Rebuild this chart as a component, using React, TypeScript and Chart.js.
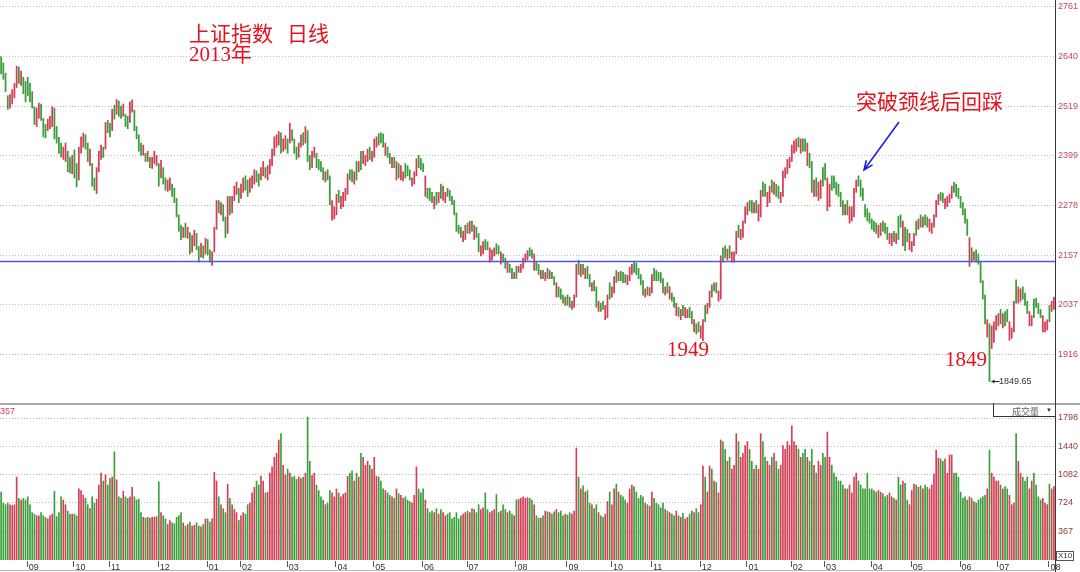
import React, { useEffect, useRef } from "react";
import { Chart, registerables } from "chart.js";

Chart.register(...registerables);

// ---------------- data ----------------
const monthNames = ["08", "09", "10", "11", "12", "01", "02", "03", "04", "05", "06", "07", "08", "09", "10", "11", "12", "01", "02", "03", "04", "05", "06", "07", "08"];
const monthBarCounts = [12, 21, 16, 22, 22, 15, 21, 22, 17, 22, 20, 22, 23, 20, 18, 22, 21, 20, 15, 21, 18, 22, 17, 23, 3];

const highs = [
  2640, 2625, 2600, 2545, 2548, 2560, 2575, 2617, 2615, 2605, 2590, 2580,
  2590, 2575, 2555, 2518, 2515, 2527, 2525, 2490, 2475, 2488, 2495, 2518, 2515, 2470, 2444, 2430, 2420, 2430, 2410, 2395, 2400,
  2413, 2380, 2420, 2445, 2454, 2450, 2430, 2415, 2380, 2345, 2370, 2410, 2425, 2420, 2480, 2485,
  2478, 2512, 2522, 2536, 2532, 2520, 2525, 2500, 2495, 2530, 2535, 2510, 2470, 2450, 2430, 2425, 2405, 2410, 2395, 2395, 2410, 2400,
  2380, 2388, 2370, 2345, 2340, 2345, 2330, 2320, 2295, 2255, 2230, 2225, 2235, 2225, 2212, 2205, 2218, 2210, 2178, 2186, 2180, 2198,
  2195, 2170, 2165, 2225, 2290, 2290, 2285, 2280, 2250, 2300, 2300, 2300, 2325, 2335, 2320,
  2330, 2345, 2350, 2340, 2345, 2350, 2365, 2362, 2355, 2370, 2385, 2370, 2375, 2390, 2415, 2445, 2450, 2458, 2455, 2440, 2448,
  2440, 2478, 2462, 2440, 2420, 2430, 2450, 2455, 2470, 2460, 2400, 2410, 2420, 2405, 2390, 2385, 2370, 2360, 2365, 2350, 2290, 2275,
  2305, 2315, 2300, 2310, 2320, 2355, 2365, 2365, 2360, 2385, 2385, 2410, 2410, 2400, 2415, 2420, 2410,
  2440, 2445, 2453, 2455, 2452, 2430, 2420, 2405, 2395, 2395, 2385, 2380, 2375, 2360, 2380, 2375, 2365, 2345, 2360, 2392, 2400, 2392,
  2380, 2350, 2320, 2320, 2310, 2300, 2310, 2310, 2330, 2325, 2310, 2320, 2315, 2300, 2290, 2260, 2230, 2225, 2215, 2230,
  2235, 2240, 2240, 2230, 2225, 2210, 2180, 2190, 2195, 2190, 2175, 2170, 2175, 2185, 2180, 2165, 2160, 2150, 2140, 2135, 2125, 2115,
  2130, 2130, 2135, 2150, 2160, 2168, 2175, 2170, 2160, 2140, 2135, 2120, 2120, 2115, 2125, 2120, 2115, 2105, 2090, 2080, 2075, 2060, 2055,
  2060, 2055, 2045, 2060, 2135, 2145, 2135, 2135, 2125, 2130, 2110, 2090, 2095, 2080, 2045, 2040, 2045, 2035, 2060, 2090,
  2080, 2105, 2120, 2115, 2118, 2115, 2110, 2108, 2128, 2135, 2140, 2138, 2125, 2110, 2095, 2075, 2080, 2078,
  2110, 2125, 2120, 2115, 2115, 2100, 2080, 2090, 2080, 2065, 2055, 2040, 2030, 2025, 2035, 2030, 2025, 2030, 2020, 2000, 1990, 1995,
  1985, 2000, 2035, 2040, 2070, 2085, 2090, 2090, 2070, 2155, 2175, 2180, 2172, 2180, 2165, 2165, 2215, 2230, 2220, 2240, 2275,
  2285, 2290, 2290, 2285, 2290, 2280, 2315, 2335, 2330, 2310, 2325, 2340, 2335, 2330, 2325, 2310, 2362, 2370, 2390, 2395,
  2425, 2435, 2440, 2444, 2440, 2440, 2440, 2430, 2405, 2385, 2340, 2345, 2335, 2340, 2370,
  2380, 2345, 2330, 2350, 2350, 2335, 2330, 2310, 2290, 2280, 2290, 2275, 2275, 2320, 2340, 2350, 2340, 2320, 2280, 2270, 2260,
  2245, 2240, 2235, 2230, 2235, 2240, 2235, 2225, 2210, 2210, 2215, 2210, 2252, 2255, 2240, 2225, 2220, 2210,
  2190, 2210, 2240, 2245, 2255, 2250, 2255, 2250, 2245, 2235, 2255, 2290, 2305, 2310, 2308, 2295, 2300, 2305, 2325, 2334, 2330, 2320,
  2300, 2285, 2270, 2245, 2200, 2175, 2165, 2170, 2160, 2140, 2095, 2060, 2000, 1990, 1985, 1995, 2010,
  2015, 2025, 2015, 2020, 2025, 1995, 1980, 2045, 2097, 2080, 2075, 2080, 2065, 2045, 2020, 2010, 2050, 2052, 2040, 2025, 2010, 1995, 2000,
  2035, 2045, 2055,
];

const lows = [
  2598, 2585, 2555, 2512, 2515, 2525, 2540, 2565, 2575, 2570, 2550, 2530,
  2545, 2530, 2515, 2475, 2470, 2490, 2485, 2445, 2442, 2460, 2465, 2470, 2440, 2430, 2405, 2396, 2390, 2385, 2360, 2357, 2355,
  2345, 2323, 2340, 2405, 2420, 2415, 2385, 2375, 2325, 2315, 2307, 2360, 2390, 2395, 2415, 2455,
  2445, 2460, 2488, 2500, 2495, 2490, 2495, 2470, 2465, 2480, 2505, 2460, 2440, 2410, 2400, 2400, 2385, 2385, 2370, 2368, 2380, 2375,
  2325, 2345, 2330, 2315, 2312, 2315, 2300, 2285, 2250, 2215, 2195, 2200, 2200, 2198, 2160, 2165, 2180, 2170, 2140, 2152, 2150, 2160,
  2158, 2140, 2132, 2165, 2220, 2260, 2255, 2240, 2200, 2210, 2255, 2260, 2290, 2305, 2285,
  2295, 2310, 2315, 2300, 2310, 2320, 2330, 2335, 2325, 2340, 2350, 2345, 2340, 2355, 2375, 2400, 2420, 2425, 2405, 2410, 2415,
  2405, 2430, 2435, 2405, 2390, 2395, 2420, 2425, 2430, 2385, 2365, 2370, 2395, 2370, 2365, 2360, 2340, 2335, 2340, 2280, 2242, 2245,
  2255, 2285, 2270, 2275, 2290, 2305, 2340, 2335, 2330, 2340, 2360, 2365, 2380, 2375, 2385, 2390, 2385,
  2395, 2420, 2425, 2430, 2420, 2400, 2395, 2380, 2370, 2370, 2340, 2345, 2340, 2338, 2345, 2350, 2340, 2325, 2330, 2350, 2370, 2365,
  2360, 2300, 2295, 2290, 2285, 2270, 2280, 2285, 2295, 2290, 2285, 2300, 2290, 2280, 2255, 2215, 2210, 2200, 2190, 2195,
  2210, 2210, 2215, 2195, 2200, 2165, 2155, 2160, 2170, 2170, 2140, 2145, 2155, 2160, 2160, 2135, 2140, 2125, 2115, 2115, 2100, 2100,
  2100, 2115, 2115, 2125, 2140, 2145, 2155, 2150, 2120, 2120, 2110, 2100, 2100, 2095, 2100, 2100, 2100, 2085, 2055, 2055, 2050, 2040, 2035,
  2035, 2030, 2025, 2030, 2055, 2110, 2105, 2110, 2100, 2100, 2080, 2070, 2070, 2030, 2020, 2020, 2025, 2000, 2005, 2050,
  2055, 2065, 2090, 2095, 2095, 2090, 2090, 2085, 2095, 2110, 2115, 2110, 2100, 2085, 2060, 2055, 2060, 2058,
  2065, 2095, 2095, 2095, 2090, 2065, 2060, 2065, 2050, 2045, 2030, 2010, 2008, 2000, 2010, 2005, 2005, 2005, 1990, 1970, 1965, 1970,
  1955, 1949, 1995, 2015, 2030, 2055, 2070, 2065, 2045, 2050, 2140, 2150, 2145, 2150, 2140, 2140, 2160, 2200, 2195, 2200, 2235,
  2255, 2265, 2260, 2260, 2260, 2240, 2250, 2300, 2300, 2275, 2285, 2310, 2305, 2300, 2295, 2285, 2300, 2345, 2355, 2370,
  2385, 2405, 2410, 2420, 2405, 2410, 2410, 2375, 2370, 2310, 2300, 2300, 2290, 2295, 2325,
  2340, 2265, 2275, 2315, 2320, 2305, 2300, 2275, 2255, 2255, 2255, 2235, 2240, 2250, 2310, 2325, 2300, 2290, 2250, 2240, 2235,
  2220, 2215, 2210, 2200, 2205, 2215, 2210, 2195, 2185, 2180, 2190, 2185, 2195, 2225, 2180, 2168, 2190, 2170,
  2165, 2180, 2205, 2220, 2225, 2225, 2230, 2225, 2215, 2210, 2225, 2250, 2280, 2290, 2285, 2270, 2275, 2285, 2295, 2310, 2300, 2295,
  2272, 2255, 2235, 2205, 2130, 2140, 2145, 2140, 2135, 2090, 2050, 1990, 1958, 1849.65, 1930, 1945, 1975,
  1985, 1990, 1980, 1985, 1995, 1950, 1955, 1970, 2040, 2040, 2045, 2050, 2035, 2015, 1985, 1985, 2005, 2030, 2015, 2005, 1970, 1970, 1975,
  1995, 2020, 2025,
];

// u = rising day (red), d = falling day (green), one string per month
const barDirectionsByMonth = [
  "dddduuuududd",
  "dddduuddduuudddduuddu",
  "dduuuddudduuudud",
  "dududdudduuddddududuuu",
  "dudduudddddududuuddudu",
  "dduuududduduuud",
  "uudduuudduuduuuuuuduu",
  "duddduududduudddduddu",
  "uuduuuuddududuuud",
  "uuuddduddududuuddduuud",
  "ddudddududuudddddddu",
  "udududduudduuudduddudd",
  "uduuuuudduddudududduddd",
  "udduuudududduddudduu",
  "duududdduuudddddud",
  "uudddddududdududuuddud",
  "duuduududuudduduuuduu",
  "uudduduudduududduuuu",
  "uuuududdudduduu",
  "dduudddddduduuuuddddd",
  "dddduuddduududdudd",
  "uuudududduuuuudduuuudd",
  "dddddududdddduduu",
  "uududduuuduuddduudddduu",
  "udu",
];

const volumes = [
  860, 720, 700, 720, 700, 690, 700, 1050, 780, 760, 780, 760,
  800, 700, 600, 580, 560, 560, 600, 560, 540, 520, 560, 580, 870, 550, 600, 800, 760, 700, 620, 580, 580,
  580, 560, 900, 880, 820, 780, 700, 650, 800, 720, 770, 950, 1100, 1000, 1080, 950,
  1030, 1050, 1370, 1015, 800, 780, 870, 800, 780, 800, 920, 800, 760, 770, 600, 540, 530, 540, 530, 540, 540, 550,
  990, 600, 560, 520, 450, 500, 470, 460, 540, 560, 600, 470, 430, 450, 480, 430, 440, 470, 430, 420, 450, 520,
  520, 480, 520, 1110, 1000, 800, 700, 650, 600, 960, 780, 700, 640, 600, 500,
  560, 600, 580, 700, 720, 850, 920, 1000, 950, 1060, 1000, 850, 860, 1100, 1180, 1300, 1350, 1520, 1600, 1200, 1080,
  1150, 1100, 1050, 1060, 1020, 1050, 1030, 1050, 1100, 1810, 1250, 1070, 1100, 950, 880, 800, 760, 700, 720, 880, 850, 800,
  900, 850, 800, 830, 850, 1060, 1100, 1130, 1000, 1100, 1050, 1350, 1300, 1200, 1250, 1200, 1150,
  1300, 1060, 1050, 1000, 900, 880, 850, 820, 800, 780, 900, 840, 820, 780, 800, 760, 740, 720, 820, 1180, 900, 850,
  900, 760, 650, 600, 620, 600, 650, 580, 640, 600, 560, 580, 600, 520, 540, 600, 520, 560, 580, 600,
  620, 600, 650, 640, 600, 700, 640, 660, 850, 640, 600, 620, 640, 830, 600, 620, 700, 640, 600, 620, 580, 560,
  760, 770, 780, 800, 780, 790, 780, 760, 700, 560, 530, 530, 560, 620, 610, 600, 580, 610, 640, 600, 620, 560, 580,
  570, 600, 580, 620, 1418, 1050, 900, 940, 860, 880, 720, 700, 650, 700, 600, 560, 540, 580, 740, 860,
  700, 900, 960, 860, 820, 800, 760, 720, 900, 950, 930, 860, 780, 820, 800, 720, 700, 680,
  860, 780, 720, 700, 660, 720, 640, 620, 600, 580, 560, 620, 560, 540, 590, 520, 540, 580, 620, 600, 650, 600,
  700, 1190, 1050, 860, 1190, 1150, 1000, 980, 850, 1520, 1500, 1400, 1250, 1300, 1150, 1200, 1600, 1500, 1300, 1350, 1450,
  1500, 1400, 1250, 1150, 1200, 1150, 1600, 1500, 1300, 1250, 1200, 1300, 1350, 1250, 1150, 1200, 1450, 1400, 1500, 1450,
  1700, 1500, 1450, 1400, 1300, 1350, 1400, 1300, 1250, 1400, 1200, 1100, 1250, 1200, 1350,
  1300, 1620, 1300, 1200, 1100, 1050, 1000, 1000, 950, 900, 900, 950, 850, 1050, 1100, 1000, 950, 900, 900, 1100, 900,
  900, 880, 860, 880, 860, 840, 800, 820, 850, 800, 780, 760, 1050, 950, 1000, 970, 760, 700,
  880, 960, 950, 920, 940, 900, 950, 920, 900, 950, 1090, 1390, 1290, 1280, 1250, 1280, 1100, 1330, 1330, 1100, 1100, 1050,
  860, 780, 800, 760, 800, 780, 740, 720, 760, 780, 800, 820, 900, 1390, 1100, 1050, 1000,
  1000, 950, 900, 930, 900, 820, 700, 720, 1600, 1250, 1100, 1050, 1000, 1050, 900, 1000, 1100, 950, 800, 760, 780, 720, 700,
  960, 900, 930,
];

const priceTicks = [1916, 2037, 2157, 2278, 2399, 2519, 2640, 2761];
const volumeTicks = [367, 724, 1082, 1440, 1798];
const necklineValue = 2143.6;
const lowestValue = 1849.65;
const priceMin = 1797.3;
const priceMax = 2778;
const volumeMax = 1988;

// ---------------- derived ----------------
const directions = barDirectionsByMonth.join("").split("");
const labels: string[] = [];
const monthStartIndexes: number[] = [];
monthBarCounts.forEach((count, m) => {
  for (let j = 0; j < count; j++) {
    if (j === 0 && m > 0) {
      monthStartIndexes.push(labels.length);
      labels.push(monthNames[m]);
    } else labels.push("");
  }
});
const lowestIndex = lows.indexOf(lowestValue);

const UP = "rgb(212,62,86)";
const DOWN = "rgb(58,158,58)";
const barColors = highs.map((_, i) => (directions[i] === "d" ? DOWN : UP));
const SANS = '"Liberation Sans", Arial, sans-serif';

function drawArrow(ctx: any, x1: number, y1: number, x2: number, y2: number, color: string) {
  const ang = Math.atan2(y2 - y1, x2 - x1);
  const head = 10;
  ctx.strokeStyle = color;
  ctx.lineWidth = 1.5;
  ctx.beginPath();
  ctx.moveTo(x1, y1);
  ctx.lineTo(x2, y2);
  ctx.moveTo(x2 - head * Math.cos(ang - 0.4), y2 - head * Math.sin(ang - 0.4));
  ctx.lineTo(x2, y2);
  ctx.lineTo(x2 - head * Math.cos(ang + 0.4), y2 - head * Math.sin(ang + 0.4));
  ctx.stroke();
}

const priceDecor = {
  id: "priceDecor",
  afterDatasetsDraw(chart: any) {
    const { ctx, chartArea, scales } = chart;
    ctx.save();
    const ny = Math.round(scales.y.getPixelForValue(necklineValue)) + 0.5;
    ctx.strokeStyle = "rgb(84,84,240)";
    ctx.lineWidth = 1.4;
    ctx.beginPath();
    ctx.moveTo(0, ny);
    ctx.lineTo(chartArea.right, ny);
    ctx.stroke();

    drawArrow(ctx, 899, 122, 864, 170, "rgb(24,24,226)");

    const lx = scales.x.getPixelForValue(lowestIndex) + 2;
    const ly = Math.round(scales.y.getPixelForValue(lowestValue)) + 0.5;
    ctx.strokeStyle = "#222";
    ctx.fillStyle = "#222";
    ctx.lineWidth = 1;
    ctx.beginPath();
    ctx.moveTo(lx, ly);
    ctx.lineTo(lx + 8, ly);
    ctx.stroke();
    ctx.beginPath();
    ctx.moveTo(lx, ly);
    ctx.lineTo(lx + 3, ly - 2);
    ctx.lineTo(lx + 3, ly + 2);
    ctx.closePath();
    ctx.fill();

    const ax = Math.round(chartArea.right) + 0.5;
    ctx.strokeStyle = "#3a3a3a";
    ctx.beginPath();
    ctx.moveTo(ax, 0);
    ctx.lineTo(ax, chart.height);
    ctx.stroke();
    ctx.restore();
  },
};

const volumeDecor = {
  id: "volumeDecor",
  afterDatasetsDraw(chart: any) {
    const { ctx, chartArea, scales } = chart;
    ctx.save();
    ctx.strokeStyle = "#555";
    ctx.lineWidth = 1;
    monthStartIndexes.forEach((i) => {
      const x = Math.round(scales.x.getPixelForValue(i)) - 0.5;
      ctx.beginPath();
      ctx.moveTo(x, chartArea.bottom + 1);
      ctx.lineTo(x, chartArea.bottom + 7);
      ctx.stroke();
    });
    ctx.fillStyle = "#a9a9a9";
    ctx.fillRect(0, 0, chart.width, 2);
    ctx.fillStyle = "#b8b8b8";
    ctx.fillRect(0, chart.height - 2, chartArea.right, 1);
    const ax = Math.round(chartArea.right) + 0.5;
    ctx.strokeStyle = "#3a3a3a";
    ctx.beginPath();
    ctx.moveTo(ax, 0);
    ctx.lineTo(ax, chart.height);
    ctx.stroke();
    ctx.restore();
  },
};

function yAxisFit(s: any) {
  s.width = 25;
  s.paddingTop = 0;
  s.paddingBottom = 0;
}

export default function App() {
  const priceRef = useRef<HTMLCanvasElement>(null);
  const volRef = useRef<HTMLCanvasElement>(null);

  useEffect(() => {
    const priceChart = new Chart(priceRef.current as HTMLCanvasElement, {
      type: "bar",
      data: {
        labels,
        datasets: [
          {
            data: highs.map((h, i) => [lows[i], h]) as any,
            backgroundColor: barColors,
            borderWidth: 0,
            barThickness: 1.1,
          },
        ],
      },
      options: {
        animation: false,
        responsive: false,
        devicePixelRatio: 1,
        events: [],
        layout: { padding: 0, autoPadding: false },
        plugins: { legend: { display: false }, tooltip: { enabled: false } },
        scales: {
          x: { type: "category", display: false, offset: true, grid: { display: false } },
          y: {
            position: "right",
            min: priceMin,
            max: priceMax,
            afterFit: yAxisFit,
            afterBuildTicks: (s: any) => {
              s.ticks = priceTicks.map((v) => ({ value: v }));
            },
            ticks: {
              font: { family: SANS, size: 9 },
              color: "#c24a5a",
              padding: 3,
              callback: (v: any) => String(v),
            },
            grid: { color: "#bcbcbc", drawTicks: false, lineWidth: 1 },
            border: { display: false, dash: [1, 2] },
          },
        },
      } as any,
      plugins: [priceDecor],
    });

    const volumeChart = new Chart(volRef.current as HTMLCanvasElement, {
      type: "bar",
      data: {
        labels,
        datasets: [
          {
            data: volumes,
            backgroundColor: barColors,
            borderWidth: 0,
            barThickness: 1,
          },
        ],
      },
      options: {
        animation: false,
        responsive: false,
        devicePixelRatio: 1,
        events: [],
        layout: { padding: 0, autoPadding: false },
        plugins: { legend: { display: false }, tooltip: { enabled: false } },
        scales: {
          x: {
            type: "category",
            offset: true,
            afterBuildTicks: (s: any) => {
              s.ticks = monthStartIndexes.map((v) => ({ value: v }));
            },
            afterFit: (s: any) => {
              s.height = 12;
              s.paddingLeft = 0;
              s.paddingRight = 0;
            },
            ticks: {
              autoSkip: false,
              maxRotation: 0,
              minRotation: 0,
              align: "start",
              labelOffset: 1,
              padding: 2,
              font: { family: SANS, size: 9 },
              color: "#333",
              callback: (v: any) => labels[v as number],
            },
            grid: { display: false, drawTicks: false },
            border: { display: false },
          },
          y: {
            position: "right",
            min: 0,
            max: volumeMax,
            afterFit: yAxisFit,
            afterBuildTicks: (s: any) => {
              s.ticks = volumeTicks.map((v) => ({ value: v }));
            },
            ticks: {
              font: { family: SANS, size: 9 },
              color: "#8b3a3a",
              padding: 3,
              callback: (v: any) => String(v),
            },
            grid: { color: "#bcbcbc", drawTicks: false, lineWidth: 1 },
            border: { display: false, dash: [1, 2] },
          },
        },
      } as any,
      plugins: [volumeDecor],
    });

    return () => {
      priceChart.destroy();
      volumeChart.destroy();
    };
  }, []);

  const red: React.CSSProperties = {
    position: "absolute",
    color: "#e3121c",
    fontFamily: '"Liberation Serif", "Noto Sans CJK SC", serif',
    fontSize: 21,
    lineHeight: "21px",
    whiteSpace: "pre",
  };
  const small: React.CSSProperties = {
    position: "absolute",
    fontFamily: SANS,
    fontSize: 9,
    lineHeight: "9px",
    whiteSpace: "pre",
  };

  return (
    <div style={{ position: "absolute", left: 0, top: 0, width: 1080, height: 572, background: "#fff", overflow: "hidden" }}>
      <canvas ref={priceRef} width={1080} height={403} style={{ position: "absolute", left: 0, top: 0 }} />
      <canvas ref={volRef} width={1080} height={169} style={{ position: "absolute", left: 0, top: 403 }} />

      <div style={{ ...red, left: 189, top: 24 }}>上证指数</div>
      <div style={{ ...red, left: 287, top: 24 }}>日线</div>
      <div style={{ ...red, left: 189, top: 44 }}>2013年</div>
      <div style={{ ...red, left: 856, top: 92 }}>突破颈线后回踩</div>
      <div style={{ ...red, left: 667, top: 339 }}>1949</div>
      <div style={{ ...red, left: 945, top: 349 }}>1849</div>

      <div style={{ ...small, left: 999, top: 377, color: "#333" }}>1849.65</div>
      <div style={{ ...small, left: 0, top: 407, color: "#d23b52" }}>357</div>

      <div
        style={{
          position: "absolute",
          left: 993,
          top: 403,
          width: 62,
          height: 14,
          boxSizing: "border-box",
          borderLeft: "1px solid #333",
          borderBottom: "1px solid #333",
          overflow: "hidden",
        }}
      >
        <div style={{ ...small, left: 18, top: 4, color: "#666", fontFamily: '"Noto Sans CJK SC", sans-serif' }}>成交量</div>
        <div style={{ ...small, left: 52, top: 3, color: "#333", fontSize: 6 }}>▼</div>
      </div>

      <div
        style={{
          position: "absolute",
          left: 1056,
          top: 551,
          width: 18,
          height: 10,
          boxSizing: "border-box",
          border: "1px solid #555",
          fontFamily: SANS,
          fontSize: 8,
          lineHeight: "8px",
          color: "#333",
          paddingLeft: 1,
          whiteSpace: "pre",
        }}
      >
        X10
      </div>
    </div>
  );
}
